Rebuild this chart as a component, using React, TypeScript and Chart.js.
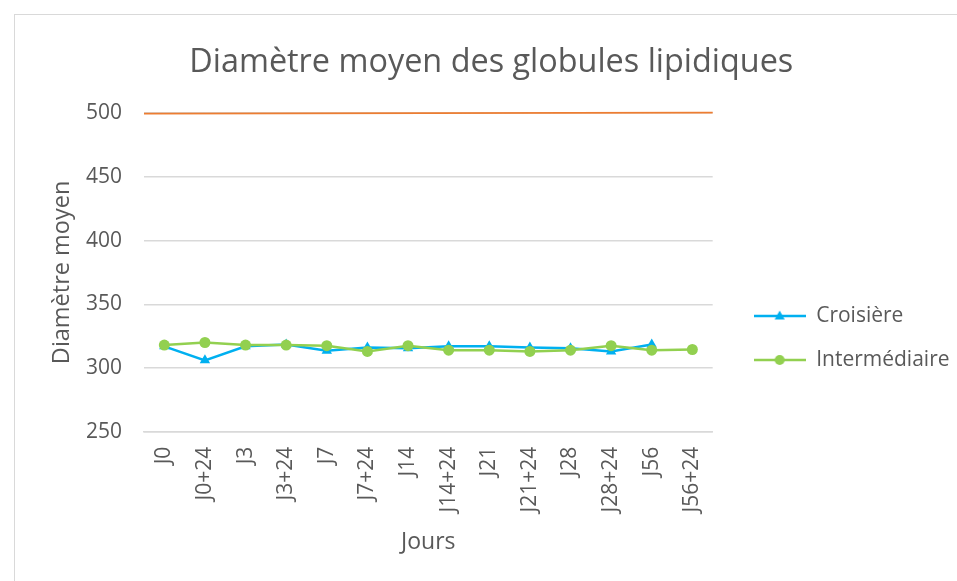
import React, { useEffect, useRef } from "react";
import { Chart, registerables } from "chart.js";

Chart.register(...registerables);

const categories = ["J0", "J0+24", "J3", "J3+24", "J7", "J7+24", "J14", "J14+24", "J21", "J21+24", "J28", "J28+24", "J56", "J56+24"];
const croisiere = [317, 306, 317, 318.5, 313.5, 316, 315.5, 317, 317, 316, 315.5, 313, 318.5, null];
const intermediaire = [318, 320, 318, 318, 317.5, 313, 317.5, 314, 314, 313, 314, 317.5, 314, 314.5];
const limitX = [0, 1];
const limitY = [499.6, 500.4];
const yTicks = [250, 300, 350, 400, 450, 500];

const FONT = "'Open Sans', sans-serif";
const GREY = "#595959";
const BLUE = "#00b0f0";
const GREEN = "#92d050";
const ORANGE = "#ed7d31";

function legendIcon(color: string, style: "triangle" | "circle") {
  const c = document.createElement("canvas");
  c.width = 52;
  c.height = 14;
  const ctx = c.getContext("2d")!;
  ctx.strokeStyle = color;
  ctx.lineWidth = 2.5;
  ctx.beginPath();
  ctx.moveTo(0, 7);
  ctx.lineTo(52, 7);
  ctx.stroke();
  ctx.fillStyle = color;
  ctx.beginPath();
  if (style === "circle") {
    ctx.arc(26, 7, 5, 0, Math.PI * 2);
  } else {
    ctx.moveTo(26, 1.5);
    ctx.lineTo(31, 10.5);
    ctx.lineTo(21, 10.5);
    ctx.closePath();
  }
  ctx.fill();
  return c;
}

export default function App() {
  const ref = useRef<HTMLCanvasElement>(null);
  useEffect(() => {
    const canvas = ref.current!;
    const chart = new Chart(canvas, {
      type: "line",
      data: {
        labels: categories,
        datasets: [
          {
            label: "Limite",
            data: limitX.map((x, i) => ({ x, y: limitY[i] })),
            xAxisID: "x2",
            borderColor: ORANGE,
            borderWidth: 1.75,
            pointRadius: 0,
            clip: 6,
            order: 0,
          } as any,
          {
            label: "Croisière",
            data: croisiere,
            borderColor: BLUE,
            backgroundColor: BLUE,
            borderWidth: 2.5,
            pointStyle: "triangle",
            pointRadius: 6,
            pointBorderWidth: 0,
            spanGaps: false,
            order: 2,
          },
          {
            label: "Intermédiaire",
            data: intermediaire,
            borderColor: GREEN,
            backgroundColor: GREEN,
            borderWidth: 2.5,
            pointStyle: "circle",
            pointRadius: 5.5,
            pointBorderWidth: 0,
            order: 1,
          },
        ],
      },
      options: {
        animation: false,
        responsive: false,
        layout: { padding: { left: 8, right: 9.5, top: 0, bottom: 25 } },
        plugins: {
          title: {
            display: true,
            text: "Diamètre moyen des globules lipidiques",
            color: GREY,
            font: { family: FONT, size: 32.4, weight: "normal" },
            padding: { top: 28, bottom: 31.2 },
          },
          legend: {
            position: "right",
            title: {
              display: true,
              text: " ",
              font: { family: FONT, size: 10 },
              padding: { top: 93, bottom: 0 },
            },
            labels: {
              usePointStyle: true,
              pointStyleWidth: 52,
              color: GREY,
              font: { family: FONT, size: 21 },
              padding: 23,
              generateLabels: (ch) =>
                ch.data.datasets
                  .map((ds, i) => ({
                    text: ds.label as string,
                    datasetIndex: i,
                    fontColor: GREY,
                    pointStyle: legendIcon(ds.borderColor as string, i === 1 ? "triangle" : "circle") as any,
                    strokeStyle: ds.borderColor as string,
                    fillStyle: ds.borderColor as string,
                    lineWidth: 0,
                    hidden: false,
                  }))
                  .filter((item) => item.text !== "Limite"),
            },
          },
          tooltip: { enabled: false },
        },
        scales: {
          x: {
            type: "category",
            offset: true,
            grid: { display: false, drawTicks: false },
            border: { display: true, color: "#d9d9d9", width: 1.5 },
            ticks: {
              color: GREY,
              font: { family: FONT, size: 21 },
              minRotation: 90,
              maxRotation: 90,
              padding: 15,
              autoSkip: false,
            },
            title: {
              display: true,
              text: "Jours",
              color: GREY,
              font: { family: FONT, size: 23 },
              padding: { top: 1, bottom: 0 },
            },
          },
          x2: {
            type: "linear",
            display: false,
            min: 0,
            max: 1,
          },
          y: {
            min: 250,
            max: 500,
            afterBuildTicks: (axis) => {
              axis.ticks = yTicks.map((v) => ({ value: v }));
            },
            afterFit: (scale) => {
              scale.width = 121;
            },
            grid: { color: "#d9d9d9", lineWidth: 1.5, drawTicks: false },
            border: { display: false },
            ticks: {
              color: GREY,
              font: { family: FONT, size: 21 },
              padding: 22,
            },
            title: {
              display: true,
              text: "Diamètre moyen",
              color: GREY,
              font: { family: FONT, size: 23.5 },
              padding: { top: 25, bottom: 0 },
            },
          },
          gap: {
            type: "linear",
            position: "right",
            display: false,
            afterFit: (scale) => {
              scale.width = 18;
            },
          },
        },
      },
    });
    return () => chart.destroy();
  }, []);
  return (
    <div style={{ position: "absolute", left: 0, top: 0, width: 957, height: 581, overflow: "hidden", background: "#fff" }}>
      <div style={{ position: "absolute", left: 14, top: 14, width: 960, height: 600, border: "1px solid #d9d9d9", background: "#fff" }}>
        <canvas ref={ref} width={954} height={566} style={{ display: "block" }} />
      </div>
    </div>
  );
}
